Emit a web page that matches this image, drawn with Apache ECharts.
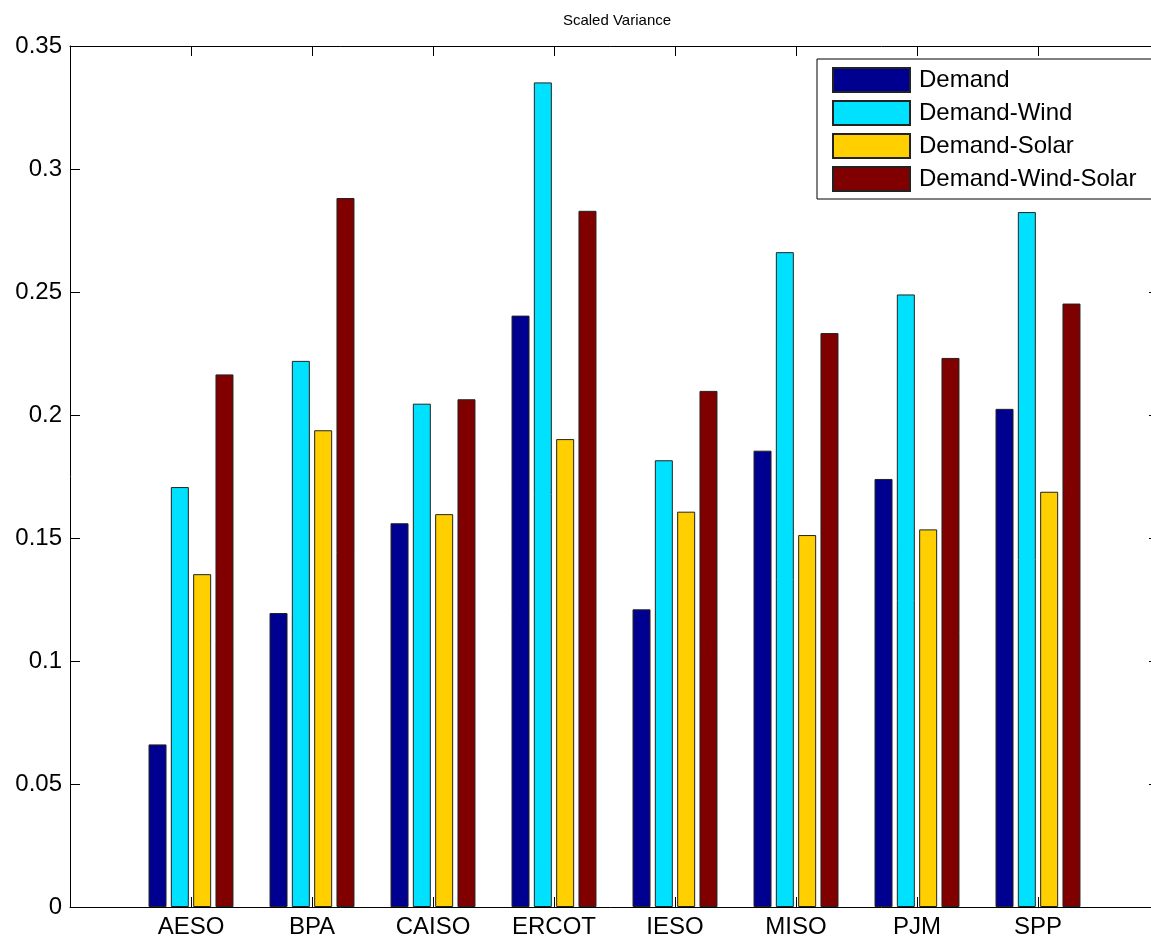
<!DOCTYPE html>
<html>
<head>
<meta charset="utf-8">
<script src="https://cdn.jsdelivr.net/npm/echarts@6/dist/echarts.min.js"></script>
<style>
html,body{margin:0;padding:0;background:#fff;}
#chart{width:1151px;height:942px;}
</style>
</head>
<body>
<div id="chart"></div>
<script>
// Data
const categories = ['AESO', 'BPA', 'CAISO', 'ERCOT', 'IESO', 'MISO', 'PJM', 'SPP'];
const seriesNames = ['Demand', 'Demand-Wind', 'Demand-Solar', 'Demand-Wind-Solar'];
const demand          = [0.0661, 0.1195, 0.1560, 0.2404, 0.1210, 0.1855, 0.1740, 0.2025];
const demandWind      = [0.1707, 0.2220, 0.2046, 0.3352, 0.1816, 0.2662, 0.2490, 0.2825];
const demandSolar     = [0.1353, 0.1938, 0.1597, 0.1902, 0.1607, 0.1512, 0.1535, 0.1688];
const demandWindSolar = [0.2165, 0.2882, 0.2064, 0.2830, 0.2098, 0.2333, 0.2232, 0.2453];
const yTicks = [0, 0.05, 0.1, 0.15, 0.2, 0.25, 0.3, 0.35];

const colors = ['#000090', '#00E1FF', '#FFCF00', '#800000'];
const allSeries = [demand, demandWind, demandSolar, demandWindSolar];

// pad the category axis with blank ends so the bars sit at 1..8 on a 0..9 range
const axisCats = [''].concat(categories, ['']);
const pad = arr => ['-'].concat(arr, ['-']);

const FONT = "'Liberation Sans', Arial, Helvetica, sans-serif";
const chart = echarts.init(document.getElementById('chart'), null, {renderer: 'canvas'});

const xCommon = {
  type: 'category',
  data: axisCats,
  boundaryGap: false,
  axisLine: {show: true, onZero: false, lineStyle: {color: '#000', width: 1}},
  axisTick: {show: true, inside: true, length: 10, lineStyle: {color: '#000'}},
  splitLine: {show: false}
};
const yCommon = {
  type: 'value',
  min: yTicks[0],
  max: yTicks[yTicks.length - 1],
  interval: 0.05,
  axisLine: {show: true, onZero: false, lineStyle: {color: '#000', width: 1}},
  axisTick: {show: true, inside: true, length: 10, lineStyle: {color: '#000'}},
  splitLine: {show: false}
};

chart.setOption({
  animation: false,
  backgroundColor: '#fff',
  title: {
    text: 'Scaled Variance',
    left: 612,
    top: 8,
    textAlign: 'center',
    textStyle: {fontFamily: FONT, fontSize: 15, fontWeight: 'normal', color: '#000'}
  },
  legend: {
    orient: 'vertical',
    left: 817,
    top: 59,
    itemWidth: 77,
    itemHeight: 24,
    itemGap: 7,
    padding: [8, 20, 7, 15],
    borderColor: '#000',
    borderWidth: 1,
    backgroundColor: '#fff',
    icon: 'rect',
    data: seriesNames,
    textStyle: {fontFamily: FONT, fontSize: 24, lineHeight: 24, color: '#000', padding: [0, 0, 0, 4]}
  },
  grid: {left: 70, top: 46, width: 1089, height: 861, containLabel: false, outerBoundsMode: 'none'},
  xAxis: [
    Object.assign({}, xCommon, {
      position: 'bottom',
      axisLabel: {show: true, margin: 8, fontFamily: FONT, fontSize: 24, color: '#000'}
    }),
    Object.assign({}, xCommon, {
      position: 'top',
      axisLabel: {show: false}
    })
  ],
  yAxis: [
    Object.assign({}, yCommon, {
      position: 'left',
      axisLabel: {show: true, margin: 8, fontFamily: FONT, fontSize: 24, color: '#000'}
    }),
    Object.assign({}, yCommon, {
      position: 'right',
      axisLabel: {show: false}
    })
  ],
  series: seriesNames.map((name, i) => ({
    name: name,
    type: 'bar',
    xAxisIndex: 0,
    yAxisIndex: 0,
    data: pad(allSeries[i]),
    barWidth: 18,
    barGap: '24%',
    itemStyle: {color: colors[i], borderColor: '#222', borderWidth: 1},
    emphasis: {disabled: true}
  }))
});
</script>
</body>
</html>
